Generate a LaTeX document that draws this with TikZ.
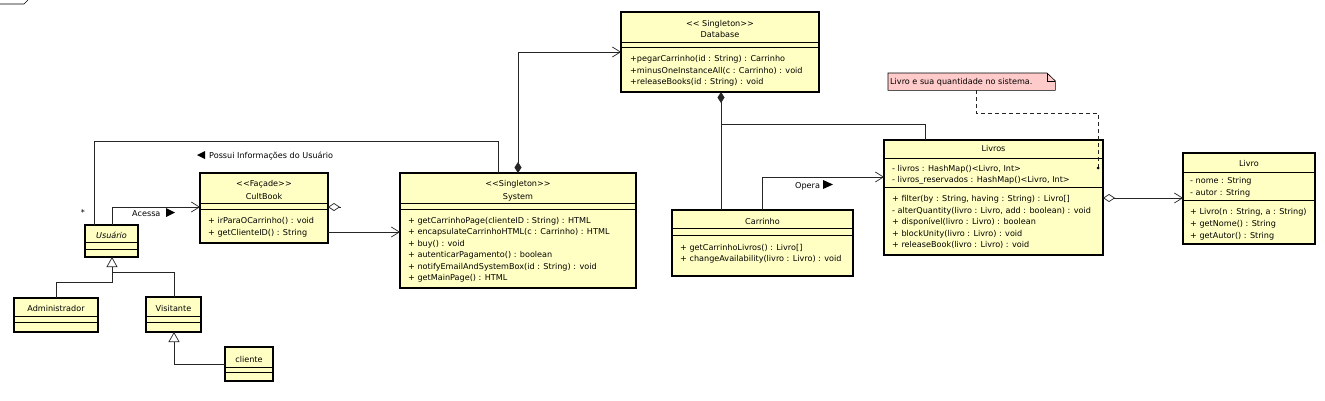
\documentclass[tikz,border=0pt]{standalone}
\usepackage{fontspec}
\setmainfont{DejaVu Sans}
\usetikzlibrary{arrows.meta}
\definecolor{clsfill}{HTML}{FFFFC4}
\definecolor{notefill}{HTML}{FFCACA}
\begin{document}
\begin{tikzpicture}[x=1pt,y=-1pt,
  clsbox/.style={draw=black, line width=1.6pt, fill=clsfill, inner sep=0pt, outer sep=0pt, anchor=north west},
  sep/.style={line width=0.7pt},
  txt/.style={font=\fontsize{8.1}{9}\selectfont, inner sep=0pt, anchor=base west},
  ctxt/.style={font=\fontsize{8.1}{9}\selectfont, inner sep=0pt, anchor=base},
  conn/.style={line width=0.7pt, draw=black!85},
  openarrow/.style={-{Straight Barb[length=8pt,width=10pt,line width=0.7pt]}},
  odiam/.style={{Diamond[open,length=12pt,width=8pt,line width=0.7pt,fill=white]}-},
  odiamarrow/.style={{Diamond[open,length=12pt,width=8pt,line width=0.7pt,fill=white]}-{Straight Barb[length=8pt,width=10pt,line width=0.7pt]}},
  fdiam/.style={{Diamond[length=11pt,width=7pt]}-},
  fdiamarrow/.style={{Diamond[length=11pt,width=7pt]}-{Straight Barb[length=8pt,width=10pt,line width=0.7pt]}},
  gener/.style={-{Triangle[open,length=10pt,width=11pt,line width=0.7pt,fill=white]}},
  tri/.style={fill=black}
]
\useasboundingbox (0,0) rectangle (1325,400);
\fill[white] (0,0) rectangle (1325,400);

% fragment top-left
\draw[line width=0.7pt] (0,4) -- (24,4) -- (28,0);

% ---------- Usuario
\node[clsbox, minimum width=53pt, minimum height=32pt] (usr) at (85,225) {};
\node[ctxt, font=\fontsize{8.1}{9}\selectfont\itshape] (usrN) at (111.5,238) {Usuário};
\draw[sep] (85,242) -- (138,242); \draw[sep] (85,249) -- (138,249);

% ---------- Administrador
\node[clsbox, minimum width=84pt, minimum height=34pt] (adm) at (14,298) {};
\node[ctxt] (admN) at (56,311) {Administrador};
\draw[sep] (14,316) -- (98,316); \draw[sep] (14,322) -- (98,322);

% ---------- Visitante
\node[clsbox, minimum width=55pt, minimum height=35pt] (vis) at (146,297) {};
\node[ctxt] (visN) at (173.5,311) {Visitante};
\draw[sep] (146,316) -- (201,316); \draw[sep] (146,322) -- (201,322);

% ---------- cliente
\node[clsbox, minimum width=48pt, minimum height=34pt] (cli) at (225,347) {};
\node[ctxt] (cliN) at (249,362) {cliente};
\draw[sep] (225,367) -- (273,367); \draw[sep] (225,372) -- (273,372);

% ---------- CultBook
\node[clsbox, minimum width=128pt, minimum height=70pt] (cult) at (200,173) {};
\node[ctxt] (cultS) at (264,186) {<{}<Façade>{}>};
\node[ctxt] (cultN) at (264,199) {CultBook};
\draw[sep] (200,203) -- (328,203); \draw[sep] (200,209) -- (328,209);
\node[txt] (cult1) at (208,223) {+ irParaOCarrinho() : void};
\node[txt] (cult2) at (208,235) {+ getClienteID() : String};

% ---------- System
\node[clsbox, minimum width=236pt, minimum height=115pt] (sys) at (400,173) {};
\node[ctxt] (sysS) at (518,186) {<{}<Singleton>{}>};
\node[ctxt] (sysN) at (518,199) {System};
\draw[sep] (400,203) -- (636,203); \draw[sep] (400,209) -- (636,209);
\node[txt] (sys1) at (408,223) {+ getCarrinhoPage(clienteID : String) : HTML};
\node[txt] (sys2) at (408,234.5) {+ encapsulateCarrinhoHTML(c : Carrinho) : HTML};
\node[txt] (sys3) at (408,246) {+ buy() : void};
\node[txt] (sys4) at (408,257.5) {+ autenticarPagamento() : boolean};
\node[txt] (sys5) at (408,269) {+ notifyEmailAndSystemBox(id : String) : void};
\node[txt] (sys6) at (408,280.5) {+ getMainPage() : HTML};

% ---------- Database
\node[clsbox, minimum width=198pt, minimum height=80pt] (db) at (621,12) {};
\node[ctxt] (dbS) at (720,26) {<{}< Singleton>{}>};
\node[ctxt] (dbN) at (720,37) {Database};
\draw[sep] (621,42) -- (819,42); \draw[sep] (621,47) -- (819,47);
\node[txt] (db1) at (630,61) {+pegarCarrinho(id : String) : Carrinho};
\node[txt] (db2) at (630,73) {+minusOneInstanceAll(c : Carrinho) : void};
\node[txt] (db3) at (630,84) {+releaseBooks(id : String) : void};

% ---------- Carrinho
\node[clsbox, minimum width=181pt, minimum height=66pt] (car) at (672,210) {};
\node[ctxt] (carN) at (762.5,224) {Carrinho};
\draw[sep] (672,228) -- (853,228); \draw[sep] (672,235) -- (853,235);
\node[txt] (car1) at (680,250) {+ getCarrinhoLivros() : Livro[]};
\node[txt] (car2) at (680,261) {+ changeAvailability(livro : Livro) : void};

% ---------- Livros
\node[clsbox, minimum width=219pt, minimum height=115pt] (lvs) at (884,140) {};
\node[ctxt] (lvsN) at (993.5,151) {Livros};
\draw[sep] (884,158) -- (1103,158);
\node[txt] (lvsa1) at (892,171) {- livros : HashMap()<Livro, Int>};
\node[txt] (lvsa2) at (892,182) {- livros\_reservados : HashMap()<Livro, Int>};
\draw[sep] (884,187) -- (1103,187);
\node[txt] (lvs1) at (892,201) {+ filter(by : String, having : String) : Livro[]};
\node[txt] (lvs2) at (892,213) {- alterQuantity(livro : Livro, add : boolean) : void};
\node[txt] (lvs3) at (892,224.5) {+ disponível(livro : Livro) : boolean};
\node[txt] (lvs4) at (892,236) {+ blockUnity(livro : Livro) : void};
\node[txt] (lvs5) at (892,247.5) {+ releaseBook(livro : Livro) : void};

% ---------- Livro
\node[clsbox, minimum width=132pt, minimum height=91pt] (lv) at (1183,153) {};
\node[ctxt] (lvN) at (1249,166) {Livro};
\draw[sep] (1183,172) -- (1315,172);
\node[txt] (lva1) at (1190,183) {- nome : String};
\node[txt] (lva2) at (1190,195) {- autor : String};
\draw[sep] (1183,200) -- (1315,200);
\node[txt] (lv1) at (1190,214) {+ Livro(n : String, a : String)};
\node[txt] (lv2) at (1190,226) {+ getNome() : String};
\node[txt] (lv3) at (1190,238) {+ getAutor() : String};

% ---------- Note
\node[inner sep=0pt, minimum width=167pt, minimum height=17pt, anchor=north west] (note) at (888,73) {};
\filldraw[fill=notefill, draw=black, line width=0.6pt] (note.north west) -- (1047,73) -- (note.east |- 0,81) -- (note.south east) -- (note.south west) -- cycle;
\draw[line width=0.6pt] (1047,73) -- (1047,81) -- (note.east |- 0,81);
\node[txt] (noteT) at (890,84.5) {Livro e sua quantidade no sistema.};

% ---------- Connectors
% Usuario -- System (Possui)
\draw[conn] (usr.north -| 94,0) |- (498,141) -- (sys.north -| 498,0);
\node[ctxt] (star) at (83,215) {*};
\fill[tri] (197,155) -- (205,151) -- (205,159) -- cycle;
\node[txt] (possui) at (209,158.5) {Possui Informações do Usuário};

% Usuario -> CultBook (Acessa)
\draw[conn, openarrow] (usr.north -| 112,0) |- (cult.west |- 0,207);
\node[txt] (acessa) at (132,216.5) {Acessa};
\fill[tri] (175,212.5) -- (166,208) -- (166,217) -- cycle;

% generalizations
\coordinate (gj) at (112,272);
\draw[conn, gener] (adm.north -| 56,0) |- (112,282) -- (usr.south -| 112,0);
\draw[conn] (vis.north -| 174,0) |- (gj);
\draw[conn, gener] (cli.west |- 0,364) -| (vis.south -| 174,0);

% CultBook -> System
\draw[conn, openarrow] (cult.east |- 0,232) -- (sys.west |- 0,232);
% aggregation diamond on CultBook
\draw[conn, odiam] (cult.east |- 0,207) -- ++(12.5,0);

% System -> Database (composition)
\draw[conn, fdiamarrow] (sys.north -| 518,0) |- (db.west |- 0,52);

% Database -- Carrinho (composition)
\draw[conn, fdiam] (db.south -| 721,0) -- (car.north -| 721,0);
\coordinate (dbj) at (721,124);
\draw[conn] (dbj) -| (lvs.north -| 925,0);

% Carrinho -> Livros (Opera)
\draw[conn, openarrow] (car.north -| 762,0) |- (lvs.west |- 0,177);
\node[txt] (opera) at (795,188) {Opera};
\fill[tri] (833,184.5) -- (823,180) -- (823,189) -- cycle;

% Livros -> Livro (aggregation)
\draw[conn, odiamarrow] (lvs.east |- 0,198) -- (lv.west |- 0,198);

% note anchor
\coordinate (noteDot) at (1098,168);
\draw[conn, dashed, dash pattern=on 4pt off 3pt] (note.south -| 976,0) |- (1098,113) -- (noteDot);
\fill (noteDot) circle (1.5pt);
\end{tikzpicture}
\end{document}
